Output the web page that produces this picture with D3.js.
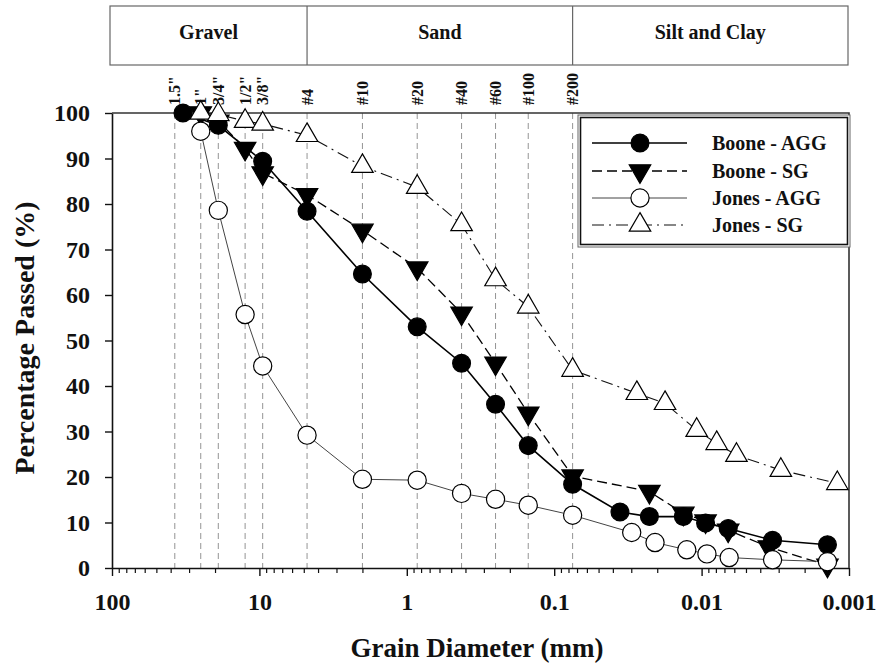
<!DOCTYPE html>
<html>
<head>
<meta charset="utf-8">
<script src="https://d3js.org/d3.v7.min.js"></script>
<style>
  body { margin: 0; background: #fff; }
  text { font-family: "Liberation Serif", "Times New Roman", serif; font-weight: bold; fill: #111; }
</style>
</head>
<body>
<svg id="chart" width="881" height="665"></svg>
<script>
// sieve sizes (mm) and their labels
var sieveSizes = [37.5, 25, 19, 12.5, 9.5, 4.75, 2.0, 0.85, 0.425, 0.25, 0.15, 0.075];
var sieveLabels = ['1.5"', '1"', '3/4"', '1/2"', '3/8"', '#4', '#10', '#20', '#40', '#60', '#100', '#200'];

// soil classes along the top
var zoneNames = ["Gravel", "Sand", "Silt and Clay"];
var zoneEdges = [100, 4.75, 0.075, 0.001];

// axis ticks
var xTicks = [100, 10, 1, 0.1, 0.01, 0.001];
var xTickLabels = ["100", "10", "1", "0.1", "0.01", "0.001"];
var yTicks = [0, 10, 20, 30, 40, 50, 60, 70, 80, 90, 100];

// series (grain diameter mm, percent passed)
var booneAggD = [33, 19, 9.5, 4.75, 2.0, 0.85, 0.425, 0.25, 0.15, 0.075, 0.0358, 0.0226, 0.0133, 0.0094, 0.0066, 0.0033, 0.0014];
var booneAggP = [100, 97.3, 89.4, 78.4, 64.6, 53.0, 45.0, 36.0, 26.9, 18.4, 12.3, 11.3, 11.3, 9.9, 8.7, 6.1, 5.1];

var booneSgD = [25, 19, 12.5, 9.5, 4.75, 2.0, 0.85, 0.425, 0.25, 0.15, 0.075, 0.0226, 0.0133, 0.0094, 0.0066, 0.0035, 0.0014];
var booneSgP = [100, 98.2, 92.2, 86.8, 82.0, 74.2, 65.9, 56.0, 45.0, 34.0, 20.2, 16.8, 12.0, 10.3, 8.3, 4.6, 0.6];

var jonesAggD = [25, 19, 12.5, 9.5, 4.75, 2.0, 0.85, 0.425, 0.25, 0.15, 0.075, 0.0298, 0.0207, 0.0126, 0.0092, 0.0065, 0.0033, 0.0014];
var jonesAggP = [96.0, 78.6, 55.7, 44.4, 29.2, 19.5, 19.3, 16.4, 15.1, 13.8, 11.6, 7.8, 5.6, 4.0, 3.1, 2.3, 1.8, 1.4];

var jonesSgD = [25, 19, 12.5, 9.5, 4.75, 2.0, 0.85, 0.425, 0.25, 0.15, 0.075, 0.0275, 0.0177, 0.0108, 0.0079, 0.0058, 0.0029, 0.0012];
var jonesSgP = [100, 99.7, 98.2, 97.6, 95.1, 88.3, 83.7, 75.5, 63.4, 57.4, 43.5, 38.4, 36.2, 30.3, 27.4, 24.8, 21.5, 18.6];

var seriesNames = ["Boone - AGG", "Boone - SG", "Jones - AGG", "Jones - SG"];

var svg = d3.select("#chart");
var plotLeft = 112, plotRight = 849, plotTop = 113, plotBottom = 568;

var x = d3.scaleLog().domain([100, 0.001]).range([plotLeft, plotRight]);
var y = d3.scaleLinear().domain([0, 100]).range([plotBottom, plotTop]);

// series styles
var styles = [
  {d: booneAggD, p: booneAggP, stroke: "#000", width: 1.6, dash: null, sym: d3.symbolCircle, size: 250, fill: "#000", rot: 0},
  {d: booneSgD, p: booneSgP, stroke: "#000", width: 1.3, dash: "10,5", sym: d3.symbolTriangle, size: 200, fill: "#000", rot: 180},
  {d: jonesAggD, p: jonesAggP, stroke: "#444", width: 1, dash: null, sym: d3.symbolCircle, size: 260, fill: "#fff", rot: 0},
  {d: jonesSgD, p: jonesSgP, stroke: "#111", width: 1.1, dash: "12,5,2,5", sym: d3.symbolTriangle, size: 200, fill: "#fff", rot: 0}
];

// header box with soil classes
var hdr = svg.append("g");
hdr.append("rect")
  .attr("x", 110).attr("y", 6)
  .attr("width", 738).attr("height", 59)
  .attr("fill", "none").attr("stroke", "#666").attr("stroke-width", 1.2);
zoneNames.forEach(function(n, i) {
  var x0 = i === 0 ? 110 : x(zoneEdges[i]);
  var x1 = i === zoneNames.length - 1 ? 848 : x(zoneEdges[i + 1]);
  if (i > 0) {
    hdr.append("line")
      .attr("x1", x0).attr("x2", x0).attr("y1", 6).attr("y2", 65)
      .attr("stroke", "#666").attr("stroke-width", 1.2);
  }
  hdr.append("text")
    .attr("x", (x0 + x1) / 2).attr("y", 39)
    .attr("text-anchor", "middle")
    .style("font-size", "20px")
    .text(n);
});

// sieve dashed lines
svg.selectAll(".sieve")
  .data(sieveSizes)
  .enter()
  .append("line")
  .attr("class", "sieve")
  .attr("x1", function(d) { return x(d); })
  .attr("x2", function(d) { return x(d); })
  .attr("y1", plotTop).attr("y2", plotBottom)
  .attr("stroke", "#888").attr("stroke-width", 0.9)
  .attr("stroke-dasharray", "6,4");

// sieve labels
svg.selectAll(".sieveLabel")
  .data(sieveSizes)
  .enter()
  .append("text")
  .attr("class", "sieveLabel")
  .attr("transform", function(d) { return "translate(" + x(d) + ",105) rotate(-90)"; })
  .attr("dy", "0.35em")
  .style("font-size", "16px")
  .text(function(d, i) { return sieveLabels[i]; });

// axes
var xMinor = [];
xTicks.slice(0, -1).forEach(function(t) {
  for (var k = 2; k <= 9; k++) xMinor.push(t / 10 * k);
});

svg.append("g")
  .attr("transform", "translate(0," + plotBottom + ")")
  .call(d3.axisBottom(x).tickValues(xMinor).tickSize(5).tickSizeOuter(0).tickFormat(""))
  .call(function(g) { g.select(".domain").remove(); g.selectAll("line").attr("stroke", "#111").attr("stroke-width", 1.2); });

svg.append("g")
  .attr("transform", "translate(0," + plotBottom + ")")
  .call(d3.axisBottom(x).tickValues(xTicks).tickSize(8).tickSizeOuter(0).tickPadding(17)
    .tickFormat(function(d, i) { return xTickLabels[i]; }))
  .call(function(g) {
    g.select(".domain").attr("stroke", "#111").attr("stroke-width", 1.6);
    g.selectAll("line").attr("stroke", "#111").attr("stroke-width", 1.4);
    g.selectAll("text").attr("font-family", null).style("font-size", "24px").attr("fill", "#111");
  });

svg.append("g")
  .attr("transform", "translate(" + plotLeft + ",0)")
  .call(d3.axisLeft(y).tickValues(yTicks).tickSize(7).tickSizeOuter(0).tickPadding(15))
  .call(function(g) {
    g.select(".domain").attr("stroke", "#111").attr("stroke-width", 1.6);
    g.selectAll("line").attr("stroke", "#111").attr("stroke-width", 1.4);
    g.selectAll("text").attr("font-family", null).style("font-size", "24px").attr("fill", "#111");
  });

// top and right frame
svg.append("path")
  .attr("d", "M" + plotLeft + "," + plotTop + "H" + plotRight + "V" + plotBottom)
  .attr("fill", "none").attr("stroke", "#333").attr("stroke-width", 1.6);

// axis titles
svg.append("text")
  .attr("transform", "translate(34,338) rotate(-90)")
  .attr("text-anchor", "middle")
  .style("font-size", "28px")
  .text("Percentage Passed (%)");

svg.append("text")
  .attr("x", 477).attr("y", 657)
  .attr("text-anchor", "middle")
  .style("font-size", "27px")
  .text("Grain Diameter (mm)");

// lines and markers
var line = d3.line().x(function(d) { return x(d[0]); }).y(function(d) { return y(d[1]); });

var order = [1, 0, 2, 3];
order.forEach(function(si) {
  var s = styles[si];
  var pts = s.d.map(function(d, i) { return [d, s.p[i]]; });
  svg.append("path")
    .datum(pts)
    .attr("d", line)
    .attr("fill", "none")
    .attr("stroke", s.stroke)
    .attr("stroke-width", s.width)
    .attr("stroke-dasharray", s.dash);
});
order.forEach(function(si) {
  var s = styles[si];
  var pts = s.d.map(function(d, i) { return [d, s.p[i]]; });
  svg.append("g").selectAll("path")
    .data(pts)
    .enter()
    .append("path")
    .attr("d", d3.symbol().type(s.sym).size(s.size))
    .attr("transform", function(d) { return "translate(" + x(d[0]) + "," + y(d[1]) + ") rotate(" + s.rot + ")"; })
    .attr("fill", s.fill)
    .attr("stroke", "#000")
    .attr("stroke-width", 1.2);
});

// legend
var lg = svg.append("g");
lg.append("rect")
  .attr("x", 578).attr("y", 115).attr("width", 272).attr("height", 132)
  .attr("fill", "#fff").attr("stroke", "#666").attr("stroke-width", 1);
lg.append("rect")
  .attr("x", 580.5).attr("y", 117.5).attr("width", 267).attr("height", 127)
  .attr("fill", "none").attr("stroke", "#111").attr("stroke-width", 1.6);

var legY = [143, 171, 198, 225];
styles.forEach(function(s, i) {
  lg.append("line")
    .attr("x1", 592).attr("x2", 687)
    .attr("y1", legY[i]).attr("y2", legY[i])
    .attr("stroke", s.stroke).attr("stroke-width", s.width)
    .attr("stroke-dasharray", s.dash);
  lg.append("path")
    .attr("d", d3.symbol().type(s.sym).size(s.size))
    .attr("transform", "translate(640," + legY[i] + ") rotate(" + s.rot + ")")
    .attr("fill", s.fill).attr("stroke", "#000").attr("stroke-width", 1.2);
  lg.append("text")
    .attr("x", 712).attr("y", legY[i])
    .attr("dy", "0.35em")
    .style("font-size", "20px")
    .text(seriesNames[i]);
});
</script>
</body>
</html>
